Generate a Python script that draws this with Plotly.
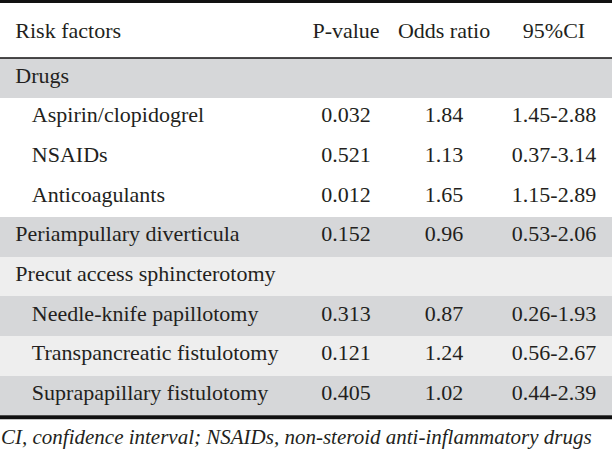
import plotly.graph_objects as go

# ---- data ----
header_labels = ["Risk factors", "P-value", "Odds\u00a0ratio", "95%CI"]
risk_factors = [
    "Drugs",
    "Aspirin/clopidogrel",
    "NSAIDs",
    "Anticoagulants",
    "Periampullary diverticula",
    "Precut access sphincterotomy",
    "Needle-knife papillotomy",
    "Transpancreatic fistulotomy",
    "Suprapapillary fistulotomy",
]
is_subitem = [False, True, True, True, False, False, True, True, True]
p_values = ["", "0.032", "0.521", "0.012", "0.152", "", "0.313", "0.121", "0.405"]
odds_ratios = ["", "1.84", "1.13", "1.65", "0.96", "", "0.87", "1.24", "1.02"]
ci_95 = ["", "1.45-2.88", "0.37-3.14", "1.15-2.89", "0.53-2.06", "", "0.26-1.93", "0.56-2.67", "0.44-2.39"]
row_shade = ["dark", "white", "white", "white", "dark", "light", "dark", "light", "dark"]
footnote = "CI, confidence interval; NSAIDs, non-steroid anti-inflammatory drugs"

# ---- styling ----
W, H = 612, 449
FONT = "Liberation Serif, Times New Roman, serif"
TXT = "#231f20"
shade_colors = {"dark": "#d6d7d9", "light": "#eeeeee", "white": "#ffffff"}
lead = "\u00a0\u200a"
sub_lead = lead + "\u00a0\u00a0\u00a0"

first_col = [(sub_lead if s else lead) + r for r, s in zip(risk_factors, is_subitem)]
fills = [shade_colors[s] for s in row_shade]

TOP = 13
HEADER_H = 45
CELL_H = 39.7
n = len(risk_factors)


def yp(px):
    return 1 - px / H


fig = go.Figure(
    go.Table(
        domain=dict(x=[0, 1], y=[0, yp(TOP)]),
        columnwidth=[300, 92, 104, 116],
        header=dict(
            values=[lead + header_labels[0]] + header_labels[1:],
            align=["left", "center", "center", "center"],
            font=dict(family=FONT, size=22, color=TXT),
            fill_color="#ffffff",
            line=dict(width=0, color="#ffffff"),
            height=HEADER_H,
        ),
        cells=dict(
            values=[first_col, p_values, odds_ratios, ci_95],
            align=["left", "center", "center", "center"],
            font=dict(family=FONT, size=22, color=TXT),
            fill_color=[fills] * 4,
            line=dict(width=0, color=[fills] * 4),
            height=CELL_H,
        ),
    )
)

header_bottom = TOP + HEADER_H
table_bottom = header_bottom + n * CELL_H

fig.add_shape(type="rect", xref="paper", yref="paper", x0=0, x1=1,
              y0=yp(3), y1=yp(0), fillcolor="#111111", line_width=0)
fig.add_shape(type="line", xref="paper", yref="paper", x0=0, x1=1,
              y0=yp(header_bottom), y1=yp(header_bottom),
              line=dict(color="#111111", width=1.3))
fig.add_shape(type="rect", xref="paper", yref="paper", x0=0, x1=1,
              y0=yp(table_bottom + 4), y1=yp(table_bottom), fillcolor="#111111", line_width=0)

fig.add_annotation(text="<i>" + footnote + "</i>", xref="paper", yref="paper",
                   x=0, y=yp(437), xanchor="left", yanchor="middle", showarrow=False,
                   xshift=-1,
                   font=dict(family=FONT, size=21, color=TXT))

fig.update_layout(
    width=W, height=H,
    margin=dict(l=0, r=0, t=0, b=0, pad=0),
    paper_bgcolor="#ffffff",
    plot_bgcolor="#ffffff",
)

fig.write_html("out.html", config={"displayModeBar": False},
               post_script="document.body.style.margin='0';")
